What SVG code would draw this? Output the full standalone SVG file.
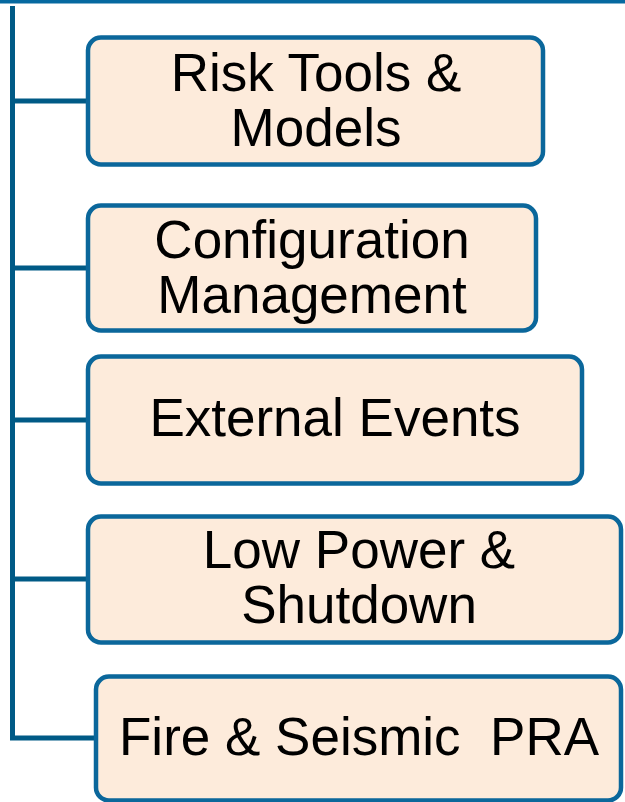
<svg xmlns="http://www.w3.org/2000/svg" width="625" height="802" viewBox="0 0 625 802">
  <style>
    .box { fill: #fdebdb; stroke: #0b679b; stroke-width: 4.5; }
    .wire { fill: none; stroke: #005a86; stroke-width: 5; stroke-linejoin: miter; }
    .lbl { font-family: "Liberation Sans", Arial, sans-serif; font-size: 53px; fill: #000; text-anchor: middle; }
  </style>
  <rect x="0" y="0" width="625" height="802" fill="#ffffff"/>
  <!-- top rule -->
  <rect x="0" y="0" width="625" height="3.5" fill="#0669a0"/>

  <g id="connectors">
    <path class="wire" d="M12.5,6 V738 H97"/>
    <path class="wire" d="M12.5,101 H89"/>
    <path class="wire" d="M12.5,268 H89"/>
    <path class="wire" d="M12.5,420 H89"/>
    <path class="wire" d="M12.5,579 H89"/>
  </g>

  <g id="risk-tools">
    <rect class="box" x="88" y="37.5" width="455" height="127" rx="13"/>
    <text class="lbl" x="316" y="91">Risk Tools &amp;</text>
    <text class="lbl" x="316" y="146">Models</text>
  </g>

  <g id="configuration-management">
    <rect class="box" x="88" y="205.5" width="448" height="125" rx="13"/>
    <text class="lbl" x="312" y="258">Configuration</text>
    <text class="lbl" x="312" y="313">Management</text>
  </g>

  <g id="external-events">
    <rect class="box" x="88" y="356.5" width="494" height="127" rx="13"/>
    <text class="lbl" x="335" y="436">External Events</text>
  </g>

  <g id="low-power-shutdown">
    <rect class="box" x="88" y="516.5" width="533" height="126" rx="13"/>
    <text class="lbl" x="359" y="568">Low Power &amp;</text>
    <text class="lbl" x="359" y="623">Shutdown</text>
  </g>

  <g id="fire-seismic">
    <rect class="box" x="96" y="676.5" width="525" height="124" rx="13"/>
    <text class="lbl" x="359" y="755" xml:space="preserve">Fire &amp; Seismic  PRA</text>
  </g>
</svg>
